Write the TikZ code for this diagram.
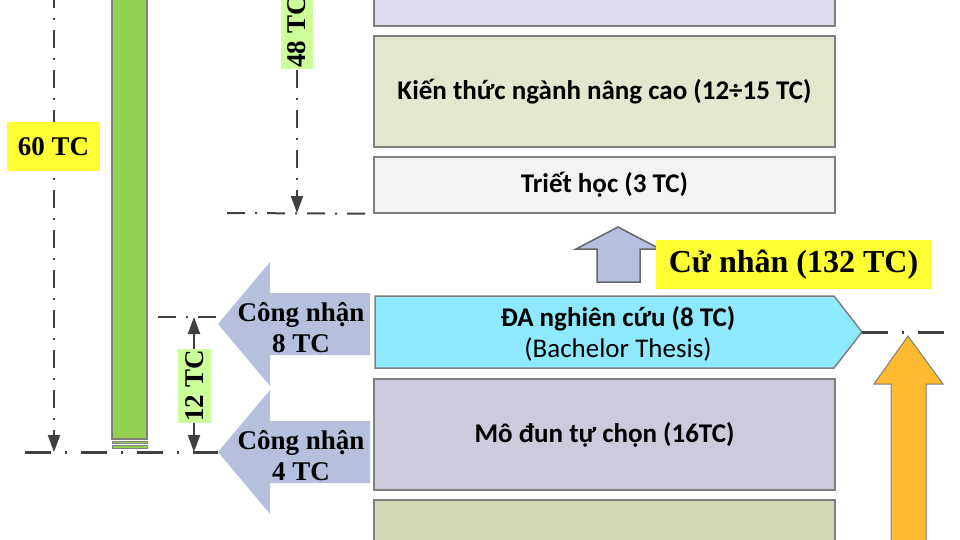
\documentclass[tikz,border=0pt]{standalone}
\usepackage{fontspec}
\setmainfont{Liberation Serif}
\newfontfamily\calibri{Carlito}
\usetikzlibrary{arrows.meta,calc,positioning}
\definecolor{linegray}{HTML}{404040}
\definecolor{boxgray}{HTML}{7F7F7F}
\definecolor{bargreen}{HTML}{92D050}
\definecolor{lavtop}{HTML}{DEDBEC}
\definecolor{olivelight}{HTML}{E2E7CE}
\definecolor{trietgray}{HTML}{F3F3F3}
\definecolor{dacyan}{HTML}{8FE9FD}
\definecolor{modlav}{HTML}{CDCADB}
\definecolor{botolive}{HTML}{D1D8B6}
\definecolor{arrowblue}{HTML}{B4C0DE}
\definecolor{arroworange}{HTML}{FBBA2F}
\definecolor{labelyellow}{HTML}{FFFF33}
\definecolor{labelgreen}{HTML}{CCFF99}
\tikzset{
    box/.style={draw=boxgray,line width=1.5pt,minimum width=461pt,inner sep=0pt,
        align=center,font=\calibri\bfseries\fontsize{27}{31}\selectfont},
    thickdash/.style={draw=linegray,line width=3pt,
        dash pattern=on 26pt off 14pt on 2pt off 14pt},
    thindash/.style={draw=linegray,line width=2pt,
        dash pattern=on 18pt off 10pt on 2pt off 10pt},
    tclabel/.style={font=\bfseries\fontsize{27}{31}\selectfont,inner ysep=0pt},
    >={Triangle[length=17pt,width=12pt]}
}

\begin{document}
\begin{tikzpicture}[x=1pt,y=-1pt]

    \useasboundingbox (0,0) rectangle (960,540);

    % Course blocks.
    \node[box,fill=lavtop,minimum height=46pt] (top) at (604.5,3) {};
    \node[box,fill=olivelight,minimum height=111pt] (kienthuc) at (604.5,91.5)
        {Kiến thức ngành nâng cao (12÷15 TC)};
    \node[box,fill=trietgray,minimum height=56pt] (triet) at (604.5,185)
        {Triết học (3 TC)};
    \node[box,fill=modlav,minimum height=111pt] (modun) at (604.5,434.5)
        {Mô đun tự chọn (16TC)};
    \node[box,fill=botolive,minimum height=60pt] (bottom) at (604.5,530) {};

    % Thesis block with pointer.
    \draw[draw=boxgray,line width=1.5pt,fill=dacyan] (375,296) -- (834,296)
        -- (862,332) coordinate (dapoint) -- (834,368) -- (375,368) -- cycle;
    \node[align=center,font=\calibri\fontsize{27}{31}\selectfont] (da) at (618,333.5)
        {\textbf{ĐA nghiên cứu (8 TC)}\\(Bachelor Thesis)};

    % Green bar.
    \draw[draw=boxgray,line width=1.2pt,fill=bargreen] (112,-5) rectangle (147,439);
    \foreach \y in {441,445.5}
        \draw[draw=boxgray,line width=1pt,fill=bargreen] (112,\y) rectangle (147,\y+2.5);

    % Recognition arrows.
    \foreach \cy/\tc in {324/8,452/4} {
        \fill[arrowblue] (218,\cy) coordinate (tip\tc) -- (270,\cy-62) -- (270,\cy-31)
            -- (370,\cy-31) -- (370,\cy+31) -- (270,\cy+31) -- (270,\cy+62) -- cycle;
        \node[align=center,font=\bfseries\fontsize{27}{31}\selectfont] (cn\tc)
            at (301,\cy+4) {Công nhận\\\tc{} TC};
    }

    % Bachelor arrow and label.
    \draw[draw=linegray!80,line width=1.5pt,fill=arrowblue] (618,227) -- (660,249)
        -- (640,249) -- (640,282) -- (597,282) -- (597,249) -- (576,249) -- cycle;
    \node[tclabel,fill=labelyellow,font=\bfseries\fontsize{32}{36}\selectfont,
        minimum width=275pt,minimum height=49pt] (cunhan) at (793.5,264.5)
        {Cử nhân (132 TC)};

    % Orange arrow.
    \draw[draw=boxgray,line width=1pt,fill=arroworange] (908,336) -- (943,384)
        -- (926,384) -- (926,560) -- (891,560) -- (891,384) -- (874,384) -- cycle;

    % Dash-dot levels.
    \draw[thickdash] (25,452) -- (tip4);
    \draw[thickdash] (dapoint) -- (946,332);
    \draw[thindash] (158,317) coordinate (lev12) -- (218,317);
    \draw[thindash] (227,213) -- (triet.south west);

    % Credit dimensions.
    \draw[thindash,->] (54,-10) -- (54,452);
    \node[tclabel,fill=labelyellow,minimum width=93pt,minimum height=49pt] (tc60)
        at (53.5,146.5) {60 TC};
    \draw[thindash,->] (297,-10) -- (297,213);
    \node[tclabel,fill=labelgreen,rotate=90,inner xsep=1pt,minimum height=32pt] (tc48)
        at (297,32) {48 TC};
    \draw[linegray,line width=2pt,<->] (194,317) -- (194,452);
    \node[tclabel,fill=labelgreen,rotate=90,inner xsep=1pt,minimum height=33pt] (tc12)
        at (194.5,386) {12 TC};

\end{tikzpicture}
\end{document}
